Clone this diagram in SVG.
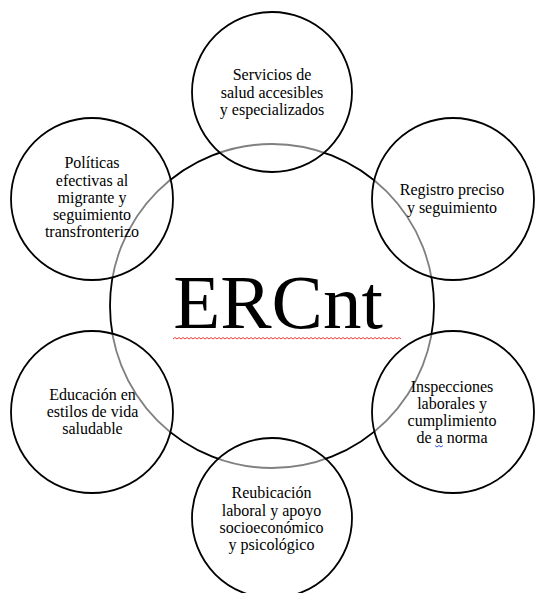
<svg xmlns="http://www.w3.org/2000/svg" width="536" height="593" viewBox="0 0 536 593">
<style>
.bg{fill:#ffffff}
.c{stroke:#000;stroke-width:1.8}
.main{fill:none}
.outer{fill:#ffffff;fill-opacity:0.5}
.t{font-family:'Liberation Serif','DejaVu Serif',serif;font-size:16px;fill:#000;text-anchor:middle}
.big{font-family:'Liberation Serif','DejaVu Serif',serif;font-size:77px;fill:#000;text-anchor:middle}
.sq{fill:none;stroke:#f03c3c;stroke-width:1}
.sqb{fill:none;stroke:#3a5bdc;stroke-width:1}
</style>
<rect class="bg" width="536" height="593"/>
<g id="center">
<circle class="c main" cx="272" cy="306" r="162"/>
<text class="big" x="278" y="328">ERCnt</text>
<path class="sq" d="M173 339 l2 -1.5 l2 1.5 l2 -1.5 l2 1.5 l2 -1.5 l2 1.5 l2 -1.5 l2 1.5 l2 -1.5 l2 1.5 l2 -1.5 l2 1.5 l2 -1.5 l2 1.5 l2 -1.5 l2 1.5 l2 -1.5 l2 1.5 l2 -1.5 l2 1.5 l2 -1.5 l2 1.5 l2 -1.5 l2 1.5 l2 -1.5 l2 1.5 l2 -1.5 l2 1.5 l2 -1.5 l2 1.5 l2 -1.5 l2 1.5 l2 -1.5 l2 1.5 l2 -1.5 l2 1.5 l2 -1.5 l2 1.5 l2 -1.5 l2 1.5 l2 -1.5 l2 1.5 l2 -1.5 l2 1.5 l2 -1.5 l2 1.5 l2 -1.5 l2 1.5 l2 -1.5 l2 1.5 l2 -1.5 l2 1.5 l2 -1.5 l2 1.5 l2 -1.5 l2 1.5 l2 -1.5 l2 1.5 l2 -1.5 l2 1.5 l2 -1.5 l2 1.5 l2 -1.5 l2 1.5 l2 -1.5 l2 1.5 l2 -1.5 l2 1.5 l2 -1.5 l2 1.5 l2 -1.5 l2 1.5 l2 -1.5 l2 1.5 l2 -1.5 l2 1.5 l2 -1.5 l2 1.5 l2 -1.5 l2 1.5 l2 -1.5 l2 1.5 l2 -1.5 l2 1.5 l2 -1.5 l2 1.5 l2 -1.5 l2 1.5 l2 -1.5 l2 1.5 l2 -1.5 l2 1.5 l2 -1.5 l2 1.5 l2 -1.5 l2 1.5 l2 -1.5 l2 1.5 l2 -1.5 l2 1.5 l2 -1.5 l2 1.5 l2 -1.5 l2 1.5 l2 -1.5 l2 1.5 l2 -1.5 l2 1.5 l2 -1.5 l2 1.5 l2 -1.5 l2 1.5 l2 -1.5 l2 1.5"/>
</g>
<g id="servicios">
<circle class="c outer" cx="272" cy="92" r="80"/>
<text class="t"><tspan x="272" y="80">Servicios de</tspan><tspan x="272" y="97.5">salud accesibles</tspan><tspan x="272" y="115">y especializados</tspan></text>
</g>
<g id="registro">
<circle class="c outer" cx="453" cy="199" r="81"/>
<text class="t"><tspan x="452" y="195">Registro preciso</tspan><tspan x="452" y="212.5">y seguimiento</tspan></text>
</g>
<g id="inspecciones">
<circle class="c outer" cx="453" cy="412" r="81"/>
<text class="t"><tspan x="452" y="392">Inspecciones</tspan><tspan x="452" y="409">laborales y</tspan><tspan x="452" y="426">cumplimiento</tspan><tspan x="452" y="443">de a norma</tspan></text>
<path class="sqb" d="M435 445.5 l2 1.5 l2 -1.5 l2 1.5 l2 -1.5"/>
</g>
<g id="reubicacion">
<circle class="c outer" cx="272" cy="518" r="80"/>
<text class="t"><tspan x="271.5" y="498">Reubicación</tspan><tspan x="271.5" y="515.5">laboral y apoyo</tspan><tspan x="271.5" y="533">socioeconómico</tspan><tspan x="271.5" y="550">y psicológico</tspan></text>
</g>
<g id="educacion">
<circle class="c outer" cx="92" cy="412" r="81"/>
<text class="t"><tspan x="92.5" y="400">Educación en</tspan><tspan x="92.5" y="417">estilos de vida</tspan><tspan x="92.5" y="434">saludable</tspan></text>
</g>
<g id="politicas">
<circle class="c outer" cx="92" cy="199" r="81"/>
<text class="t"><tspan x="92" y="168">Políticas</tspan><tspan x="92" y="185.5">efectivas al</tspan><tspan x="92" y="203">migrante y</tspan><tspan x="92" y="220">seguimiento</tspan><tspan x="92" y="237">transfronterizo</tspan></text>
</g>
</svg>
